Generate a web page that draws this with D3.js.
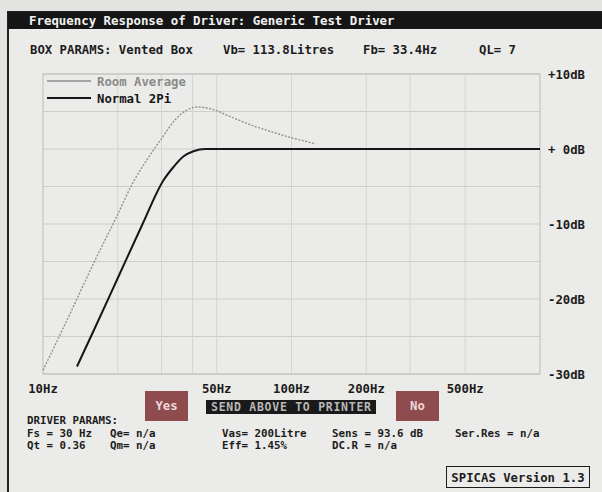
<!DOCTYPE html>
<html>
<head>
<meta charset="utf-8">
<script src="https://cdn.jsdelivr.net/npm/d3@7"></script>
<style>
  body { margin: 0; background: #e3e3e1; }
  svg text { font-family: "DejaVu Sans Mono", "Liberation Mono", monospace; font-weight: bold; }
</style>
</head>
<body>
<div id="chart"></div>
<script>
var WIDTH = 602, HEIGHT = 492;

// curves (Hz, dB)
var roomFreq = [10, 13, 16, 20, 23, 26, 30, 34, 38, 42, 48, 56, 70, 85, 100, 125];
var roomDb   = [-29.5, -21.6, -15.2, -8.7, -4.5, -1.6, 1.4, 3.9, 5.2, 5.6, 5.3, 4.4, 3.1, 2.2, 1.5, 0.7];
var normFreq = [13.7, 16, 20, 25, 30.5, 33.5, 36.7, 40.3, 45, 1000];
var normDb   = [-29, -24.2, -17.2, -10.2, -4.2, -2.4, -1.0, -0.3, 0, 0];

var xTicks = [10, 50, 100, 200, 500];
var xTickLabels = ["10Hz", "50Hz", "100Hz", "200Hz", "500Hz"];
var xGrid = [20, 30, 40, 50, 100, 200, 300, 500];
var yTicks = [10, 0, -10, -20, -30];
var yTickLabels = ["+10dB", "+ 0dB", "-10dB", "-20dB", "-30dB"];
var yGrid = [10, 5, 0, -5, -10, -15, -20, -25, -30];

var seriesNames = ["Room Average", "Normal 2Pi"];

var svg = d3.select("#chart").append("svg")
  .attr("width", WIDTH)
  .attr("height", HEIGHT)

// window
svg.append("rect")
  .attr("x", 8).attr("y", 12)
  .attr("width", WIDTH).attr("height", HEIGHT)
  .attr("fill", "#ebebe9")
  .attr("stroke", "#222").attr("stroke-width", 2)

svg.append("rect")
  .attr("x", 8).attr("y", 12)
  .attr("width", WIDTH).attr("height", 17)
  .attr("fill", "#151515")

svg.append("text")
  .attr("x", 29).attr("y", 25)
  .attr("fill", "#f2f2f2")
  .style("font-size", "12.4px")
  .text("Frequency Response of Driver: Generic Test Driver")

var boxParams = [
  {x: 30, t: "BOX PARAMS: Vented Box"},
  {x: 223, t: "Vb= 113.8Litres"},
  {x: 363, t: "Fb= 33.4Hz"},
  {x: 479, t: "QL= 7"}
]
svg.selectAll(".boxParam")
  .data(boxParams)
  .enter().append("text")
    .attr("class", "boxParam")
    .attr("x", function(d){ return d.x })
    .attr("y", 54)
    .attr("fill", "#1c1c1c")
    .style("font-size", "12.3px")
    .text(function(d){ return d.t })

// scales
var x = d3.scaleLog().domain([10, 1000]).range([43, 540]);
var y = d3.scaleLinear().domain([-30, 10]).range([374, 74]);

var grid = svg.append("g")
grid.selectAll(".hgrid")
  .data(yGrid)
  .enter().append("line")
    .attr("x1", x(10)).attr("x2", x(1000))
    .attr("y1", function(d){ return y(d) })
    .attr("y2", function(d){ return y(d) })
    .attr("stroke", "#cdcdcb")
    .attr("stroke-width", 1)
grid.selectAll(".vgrid")
  .data(xGrid)
  .enter().append("line")
    .attr("x1", function(d){ return x(d) })
    .attr("x2", function(d){ return x(d) })
    .attr("y1", y(10)).attr("y2", y(-30))
    .attr("stroke", "#d4d4d2")
    .attr("stroke-width", 1)
grid.append("rect")
  .attr("x", x(10)).attr("y", y(10))
  .attr("width", x(1000) - x(10))
  .attr("height", y(-30) - y(10))
  .attr("fill", "none")
  .attr("stroke", "#bdbdbb")

// axis labels
svg.selectAll(".xLabel")
  .data(xTicks)
  .enter().append("text")
    .attr("class", "xLabel")
    .attr("x", function(d){ return x(d) })
    .attr("y", 393)
    .attr("text-anchor", "middle")
    .attr("fill", "#1c1c1c")
    .style("font-size", "12.3px")
    .text(function(d, i){ return xTickLabels[i] })

svg.selectAll(".yLabel")
  .data(yTicks)
  .enter().append("text")
    .attr("class", "yLabel")
    .attr("x", 548)
    .attr("y", function(d){ return y(d) + 5 })
    .attr("fill", "#1c1c1c")
    .style("font-size", "12.3px")
    .text(function(d, i){ return yTickLabels[i] })

// curves
var line = d3.line()
  .x(function(d){ return x(d[0]) })
  .y(function(d){ return y(d[1]) })
  .curve(d3.curveMonotoneX)

svg.append("path")
  .datum(d3.zip(roomFreq, roomDb))
  .attr("d", line)
  .attr("fill", "none")
  .attr("stroke", "#8c8c8c")
  .attr("stroke-width", 1.3)
  .attr("stroke-dasharray", "2,1.5")

svg.append("path")
  .datum(d3.zip(normFreq, normDb))
  .attr("d", line)
  .attr("fill", "none")
  .attr("stroke", "#161616")
  .attr("stroke-width", 2)

// legend
var legend = svg.append("g")
legend.selectAll("line")
  .data(seriesNames)
  .enter().append("line")
    .attr("x1", 47).attr("x2", 91)
    .attr("y1", function(d, i){ return 81 + i * 17 })
    .attr("y2", function(d, i){ return 81 + i * 17 })
    .attr("stroke", function(d, i){ return i == 0 ? "#8c8c8c" : "#161616" })
    .attr("stroke-width", function(d, i){ return i == 0 ? 1.3 : 2 })
legend.selectAll("text")
  .data(seriesNames)
  .enter().append("text")
    .attr("x", 97)
    .attr("y", function(d, i){ return 86 + i * 17 })
    .attr("fill", function(d, i){ return i == 0 ? "#8a8a8a" : "#161616" })
    .style("font-size", "12.3px")
    .text(function(d){ return d })

// buttons
var buttons = [{x: 145, w: 43, t: "Yes"}, {x: 396, w: 43, t: "No"}]
svg.selectAll(".btn")
  .data(buttons)
  .enter().append("rect")
    .attr("class", "btn")
    .attr("x", function(d){ return d.x })
    .attr("y", 391)
    .attr("width", function(d){ return d.w })
    .attr("height", 30)
    .attr("fill", "#8e4c4e")
svg.selectAll(".btnText")
  .data(buttons)
  .enter().append("text")
    .attr("class", "btnText")
    .attr("x", function(d){ return d.x + d.w / 2 })
    .attr("y", 410)
    .attr("text-anchor", "middle")
    .attr("fill", "#efd6d8")
    .style("font-size", "12.3px")
    .text(function(d){ return d.t })

svg.append("rect")
  .attr("x", 206).attr("y", 400)
  .attr("width", 170).attr("height", 14)
  .attr("fill", "#1a1a1a")
svg.append("text")
  .attr("x", 211).attr("y", 411)
  .attr("textLength", 160)
  .attr("fill", "#b8b8b8")
  .style("font-size", "11.5px")
  .text("SEND ABOVE TO PRINTER")

// driver params
var driverRows = [
  [{x: 27, t: "DRIVER PARAMS:"}],
  [{x: 27, t: "Fs = 30 Hz"}, {x: 110, t: "Qe= n/a"}, {x: 222, t: "Vas= 200Litre"}, {x: 332, t: "Sens = 93.6 dB"}, {x: 455, t: "Ser.Res = n/a"}],
  [{x: 27, t: "Qt = 0.36"}, {x: 110, t: "Qm= n/a"}, {x: 222, t: "Eff= 1.45%"}, {x: 332, t: "DC.R = n/a"}]
]
driverRows.forEach(function(row, r){
  svg.selectAll(".drow" + r)
    .data(row)
    .enter().append("text")
      .attr("x", function(d){ return d.x })
      .attr("y", 424 + r * 12.5)
      .attr("fill", "#1c1c1c")
      .style("font-size", "10.8px")
      .text(function(d){ return d.t })
})

svg.append("rect")
  .attr("x", 446.5).attr("y", 466.5)
  .attr("width", 143).attr("height", 21)
  .attr("fill", "none")
  .attr("stroke", "#1c1c1c")
svg.append("text")
  .attr("x", 518).attr("y", 482)
  .attr("text-anchor", "middle")
  .attr("fill", "#1c1c1c")
  .style("font-size", "12.3px")
  .text("SPICAS Version 1.3")
</script>
</body>
</html>
